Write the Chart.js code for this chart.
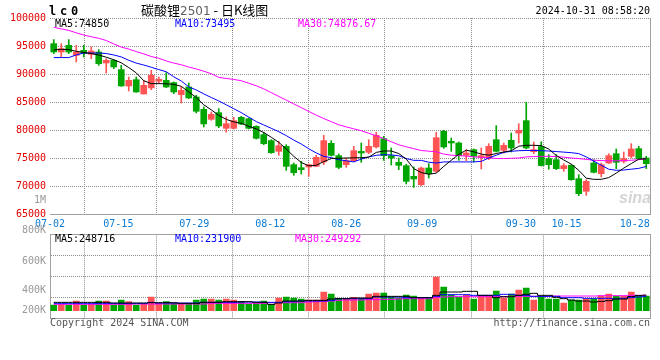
<!DOCTYPE html>
<html>
<head>
<meta charset="utf-8">
<script src="https://cdn.jsdelivr.net/npm/chart.js@4.4.1/dist/chart.umd.min.js"></script>
<style>
    html, body { margin: 0; padding: 0; background: #fff; }
    #wrap { position: relative; width: 660px; height: 360px; overflow: hidden; font-family: "DejaVu Sans Mono", monospace; font-size: 10px; }
    #priceCanvas { position: absolute; left: 0; top: 0; }
    #volCanvas { position: absolute; left: 0; top: 190px; }
    .txt { position: absolute; white-space: nowrap; line-height: 10px; }
</style>
</head>
<body>
<div id="wrap">
    <canvas id="priceCanvas" width="660" height="232"></canvas>
    <canvas id="volCanvas" width="660" height="170"></canvas>

    <div class="txt" style="left:49px;top:5px;font-size:12px;line-height:12px;font-weight:bold;letter-spacing:3.8px;">lc0</div>
    <div class="txt" style="left:141px;top:3px;font-family:'Noto Sans CJK SC';font-size:13px;line-height:14px;">碳酸锂<span style="color:#606060;font-family:'DejaVu Sans';font-size:12px;">2501</span> - 日K线图</div>
    <div class="txt" style="right:10px;top:6px;">2024-10-31 08:58:20</div>

    <div class="txt" style="left:55px;top:18.5px;color:#000;">MA5:74850</div>
    <div class="txt" style="left:175px;top:18.5px;color:#0000ff;">MA10:73495</div>
    <div class="txt" style="left:298px;top:18.5px;color:#ff00ff;">MA30:74876.67</div>

    <div class="txt" style="left:55px;top:233.5px;color:#000;">MA5:248716</div>
    <div class="txt" style="left:175px;top:233.5px;color:#0000ff;">MA10:231900</div>
    <div class="txt" style="left:295px;top:233.5px;color:#ff00ff;">MA30:249292</div>

    <div class="txt" style="left:619px;top:190px;font-family:'Liberation Sans';font-style:italic;font-weight:bold;font-size:16px;line-height:16px;color:#d4d4d4;">sina</div>

    <div class="txt" style="left:50px;top:318px;color:#555;">Copyright 2024 SINA.COM</div>
    <div class="txt" style="right:10px;top:318px;color:#555;">http://finance.sina.com.cn</div>
</div>

<script>
const dateLabels = [
    '07-02', '07-03', '07-04', '07-05', '07-08', '07-09', '07-10', '07-11', '07-12', '07-15',
    '07-16', '07-17', '07-18', '07-19', '07-22', '07-23', '07-24', '07-25', '07-26', '07-29',
    '07-30', '07-31', '08-01', '08-02', '08-05', '08-06', '08-07', '08-08', '08-09', '08-12',
    '08-13', '08-14', '08-15', '08-16', '08-19', '08-20', '08-21', '08-22', '08-23', '08-26',
    '08-27', '08-28', '08-29', '08-30', '09-02', '09-03', '09-04', '09-05', '09-06', '09-09',
    '09-10', '09-11', '09-12', '09-13', '09-18', '09-19', '09-20', '09-23', '09-24', '09-25',
    '09-26', '09-27', '09-30', '10-08', '10-09', '10-10', '10-11', '10-14', '10-15', '10-16',
    '10-17', '10-18', '10-21', '10-22', '10-23', '10-24', '10-25', '10-28', '10-29', '10-30'
];

const axisDateLabels = ['07-02', '07-15', '07-29', '08-12', '08-26', '09-09', '09-30', '10-15', '10-28'];

const openValues = [
    95420, 93930, 95120, 93340, 94230, 93520, 93930, 91970, 92450, 90780,
    87860, 88990, 86430, 87510, 88700, 88870, 88460, 86310, 87680, 85900,
    83690, 81910, 83100, 80300, 80300, 82260, 82020, 80660, 79170, 78100,
    76190, 77080, 73810, 73270, 73390, 73510, 74300, 77620, 75420, 73810,
    74520, 76190, 76010, 76970, 78450, 75420, 74230, 73630, 71730, 70240,
    73210, 72620, 79760, 77980, 77680, 75480, 76490, 75120, 75000, 78270,
    76370, 78160, 79460, 81670, 76130, 77040, 74890, 74700, 73100, 73690,
    71310, 69050, 74110, 72200, 74110, 75770, 74410, 75300, 76670, 75000
];

const highValues = [
    96140, 95420, 96140, 95120, 95120, 94830, 94350, 92740, 92560, 91550,
    89470, 89470, 88870, 90660, 89470, 90240, 88580, 87680, 88400, 86190,
    84110, 83220, 83810, 82320, 82260, 82440, 82140, 80770, 79580, 78270,
    77980, 77380, 74110, 74410, 73930, 75480, 79050, 78100, 75720, 75000,
    77080, 77680, 78270, 79580, 78870, 76790, 75000, 73870, 73390, 73390,
    73990, 79580, 79940, 78570, 77860, 76490, 76610, 76790, 77560, 80770,
    77680, 79460, 81130, 84940, 77860, 77900, 75600, 75600, 73990, 73810,
    72020, 71130, 74700, 74110, 75770, 76610, 76070, 77560, 77080, 75300
];

const lowValues = [
    93640, 93040, 93640, 92150, 93040, 92740, 91550, 90180, 90960, 87800,
    86970, 86730, 86430, 87210, 88280, 87560, 86490, 84830, 85600, 83040,
    80540, 81730, 80420, 79580, 80180, 80950, 80180, 78390, 77380, 75830,
    75480, 72800, 71910, 72140, 71730, 73450, 73800, 75360, 73100, 73330,
    74350, 74230, 75770, 76790, 74580, 73750, 72920, 70360, 69760, 70060,
    71430, 72440, 76730, 76190, 74580, 74520, 74290, 73040, 74700, 76070,
    75890, 76070, 77680, 76610, 75770, 73570, 73000, 72920, 72620, 71010,
    68280, 68330, 72320, 71610, 73990, 73100, 74110, 75000, 74700, 73100
];

const closeValues = [
    93930, 94530, 93930, 93930, 93640, 94110, 91850, 92450, 91260, 87860,
    88870, 86790, 87980, 89770, 89050, 87680, 86790, 87090, 85720, 83340,
    81080, 82800, 80720, 81130, 81670, 81070, 80300, 78510, 77560, 75950,
    77200, 73510, 72380, 72920, 73810, 75120, 78100, 75480, 73330, 74520,
    76310, 75890, 77080, 79050, 75420, 75000, 73690, 70830, 71250, 73210,
    72200, 78630, 76970, 77680, 75420, 75890, 75300, 75420, 77080, 76190,
    77260, 76790, 79940, 76790, 76490, 73650, 73810, 73100, 73630, 71130,
    68630, 70830, 72440, 73810, 75420, 74230, 74890, 76610, 74890, 73990
];

const ma5Values = [
    94300, 94410, 94350, 94050, 93850, 93640, 93380, 93000, 92550, 92000,
    91150, 90200, 88800, 88280, 88280, 88250, 88150, 87800, 86800, 85800,
    84500, 83600, 82600, 81900, 81450, 81200, 80650, 80200, 79550, 78700,
    77800, 76600, 75300, 74200, 73600, 73700, 74350, 74900, 74950, 75000,
    75030, 75050, 75150, 76000, 76250, 76250, 75800, 74800, 73100, 72400,
    72090, 72300, 73500, 74600, 75650, 76400, 76100, 75700, 75500, 75800,
    76070, 76300, 77100, 77270, 77270, 77200, 76600, 75450, 74650, 73900,
    72800, 71400, 71190, 71190, 71500, 72300, 73200, 74000, 74800, 74850
];

const ma10Values = [
    92930, 92930, 92930, 93400, 93750, 93750, 93750, 93650, 93400, 93050,
    92450, 91950, 91600, 91200, 90800, 90400, 89500, 88750, 87700, 87150,
    86450, 85800, 85200, 84500, 83800, 83100, 82300, 81500, 80900, 80300,
    79700, 79000, 78200, 77500, 76650, 75900, 75300, 75050, 74700, 74500,
    74300, 74800, 75200, 75480, 75600, 75550, 75400, 74900, 74580, 74580,
    74250, 74100, 74300, 74300, 74300, 74300, 74300, 74400, 75000, 75500,
    76000, 76200, 76300, 76350, 76350, 76300, 76250, 76150, 76050, 75950,
    75780, 75200, 74450, 73700, 73000, 72800, 72850, 73000, 73150, 73495
];

const ma30Values = [
    98340, 98050, 97790, 97350, 96950, 96650, 96370, 95980, 95370, 94800,
    94450, 94000, 93600, 93120, 92820, 92330, 91950, 91650, 91250, 90900,
    90500, 90050, 89400, 89200, 89030, 88800, 88350, 87900, 87340, 86670,
    86000, 85330, 84660, 83990, 83320, 82650, 82040, 81490, 80930, 80560,
    80220, 79870, 79420, 78970, 78470, 77910, 77360, 77000, 76670, 76330,
    76220, 76100, 75700, 75500, 75420, 75340, 75200, 75120, 75030, 74920,
    74900, 74950, 75000, 75200, 75250, 75300, 75300, 75250, 75150, 75000,
    74890, 74750, 74600, 74550, 74500, 74500, 74550, 74600, 74700, 74877
];

const volumeValues = [
    111000, 121000, 111000, 167000, 111000, 121000, 167000, 167000, 111000, 181000,
    158000, 111000, 121000, 223000, 135000, 158000, 135000, 135000, 135000, 181000,
    195000, 195000, 181000, 195000, 181000, 158000, 125000, 135000, 167000, 121000,
    209000, 223000, 209000, 195000, 181000, 181000, 293000, 265000, 205000, 195000,
    219000, 205000, 265000, 279000, 279000, 223000, 209000, 251000, 237000, 214000,
    219000, 503000, 363000, 251000, 223000, 251000, 195000, 237000, 237000, 307000,
    209000, 265000, 321000, 349000, 181000, 237000, 195000, 195000, 139000, 181000,
    181000, 195000, 195000, 237000, 265000, 237000, 237000, 293000, 237000, 237000
];

const volMa5Values = [
    148700, 148700, 148700, 148700, 148700, 148700, 148700, 148700, 139300, 139300,
    139300, 139300, 139300, 144000, 144000, 144000, 144000, 134700, 134700, 134700,
    148700, 148700, 148700, 158000, 158000, 158000, 158000, 148700, 148700, 120700,
    139300, 167300, 167300, 167300, 176700, 176700, 176700, 195300, 200000, 200000,
    209300, 209300, 209300, 232700, 232700, 232700, 232700, 232700, 214000, 214000,
    214000, 246700, 293300, 293300, 293300, 302700, 302700, 246700, 246700, 214000,
    228000, 228000, 246700, 260700, 274700, 246700, 246700, 218700, 200000, 181300,
    167300, 167300, 153300, 162700, 172000, 195300, 195300, 230000, 245000, 248716
];

const volMa10Values = [
    134700, 134700, 134700, 134700, 134700, 134700, 134700, 134700, 134700, 134700,
    134700, 134700, 134700, 148700, 139300, 139300, 139300, 139300, 139300, 139300,
    148700, 148700, 148700, 148700, 148700, 153300, 153300, 153300, 148700, 148700,
    148700, 158000, 158000, 167300, 167300, 167300, 167300, 176700, 200000, 200000,
    200000, 200000, 200000, 223300, 223300, 223300, 223300, 214000, 214000, 214000,
    214000, 232700, 256000, 256000, 256000, 256000, 246700, 246700, 246700, 246700,
    260700, 260700, 246700, 246700, 232700, 232700, 232700, 232700, 214000, 214000,
    214000, 204700, 204700, 204700, 204700, 198000, 206000, 215000, 224000, 231900
];

const volMa30Values = [
    120700, 120700, 120700, 120700, 120700, 120700, 120700, 120700, 120700, 120700,
    120700, 125300, 125300, 125300, 125300, 125300, 125300, 125300, 125300, 125300,
    125300, 134700, 134700, 134700, 134700, 134700, 134700, 134700, 134700, 144000,
    144000, 144000, 144000, 144000, 153300, 158000, 162700, 167300, 176700, 181300,
    181300, 181300, 186000, 186000, 190700, 190700, 195300, 200000, 200000, 200000,
    200000, 218700, 223300, 228000, 228000, 228000, 228000, 228000, 228000, 228000,
    228000, 232700, 232700, 232700, 232700, 232700, 232700, 237300, 237300, 237300,
    237300, 237300, 237300, 242000, 242000, 242000, 242000, 246700, 246700, 249292
];

const volTickLabels = ['1M', '800K', '600K', '400K', '200K'];

const jVarUpColor = '#ff5454';
const jVarDownColor = '#00a600';
const jVarGridColor = '#8c8c8c';
const jVarBoxColor = '#a0a0a0';
const jVarMonoFont = { family: 'DejaVu Sans Mono', size: 10 };

let jFCandleColors = ({ inOpen, inClose }) => {
    return inOpen.map((o, i) => (inClose[i] >= o ? jVarUpColor : jVarDownColor));
};

let jFPairs = ({ inFrom, inTo }) => {
    return inFrom.map((v, i) => [v, inTo[i]]);
};

// keep only the dated ticks that sina prints
let jFDateTicksOnly = (scale) => {
    scale.ticks = scale.ticks.filter(t => axisDateLabels.includes(dateLabels[t.value]));
};

let jFDateGridColor = (ctx) => {
    if (ctx.type !== 'tick' || !ctx.tick) return jVarGridColor;
    return dateLabels[ctx.tick.value] === '10-28' ? 'rgba(0,0,0,0)' : jVarGridColor;
};

let jFLine = ({ inData, inColor, inStepped }) => {
    return {
        type: 'line',
        data: inData,
        borderColor: inColor,
        borderWidth: 1,
        pointRadius: 0,
        tension: 0,
        stepped: inStepped ? 'middle' : false,
        order: 0
    };
};

const StartFunc = () => {
    let jVarLocalColors = jFCandleColors({ inOpen: openValues, inClose: closeValues });

    const ctxPrice = document.getElementById('priceCanvas');

    new Chart(ctxPrice, {
        type: 'bar',
        data: {
            labels: dateLabels,
            datasets: [
                jFLine({ inData: ma5Values, inColor: '#000000' }),
                jFLine({ inData: ma10Values, inColor: '#0000ff' }),
                jFLine({ inData: ma30Values, inColor: '#ff00ff' }),
                {
                    data: jFPairs({ inFrom: lowValues, inTo: highValues }),
                    backgroundColor: jVarLocalColors,
                    barThickness: 1,
                    grouped: false,
                    borderWidth: 0,
                    order: 2
                },
                {
                    data: jFPairs({ inFrom: openValues, inTo: closeValues }),
                    backgroundColor: jVarLocalColors,
                    barThickness: 6,
                    grouped: false,
                    borderWidth: 0,
                    borderSkipped: false,
                    order: 1
                }
            ]
        },
        options: {
            responsive: false,
            animation: false,
            events: [],
            layout: { padding: { top: 18, left: 0, right: 0, bottom: 0 } },
            plugins: { legend: { display: false }, tooltip: { enabled: false } },
            scales: {
                x: { type: 'category', offset: true, display: false },
                xg: {
                    type: 'category',
                    labels: dateLabels,
                    offset: false,
                    position: 'bottom',
                    afterBuildTicks: jFDateTicksOnly,
                    afterFit: (s) => { s.height = 18; },
                    ticks: { autoSkip: false, maxRotation: 0, color: '#0c7bd3', font: jVarMonoFont, padding: 4 },
                    grid: { color: jFDateGridColor, drawTicks: false },
                    border: { display: true, color: jVarBoxColor, dash: [1, 1] }
                },
                y: {
                    position: 'left',
                    min: 65000,
                    max: 100000,
                    afterFit: (s) => { s.width = 50; },
                    ticks: {
                        stepSize: 5000,
                        color: '#e00000',
                        font: jVarMonoFont,
                        padding: 4,
                        callback: (value) => String(value)
                    },
                    grid: { color: jVarGridColor, drawTicks: false },
                    border: { display: false, dash: [1, 1] }
                },
                yr: {
                    position: 'right',
                    afterFit: (s) => { s.width = 10; },
                    ticks: { display: false },
                    grid: { display: false, drawTicks: false },
                    border: { display: true, color: jVarBoxColor }
                }
            }
        }
    });

    const ctxVol = document.getElementById('volCanvas');

    new Chart(ctxVol, {
        type: 'bar',
        data: {
            labels: dateLabels,
            datasets: [
                { ...jFLine({ inData: volMa5Values, inColor: '#000000', inStepped: true }), yAxisID: 'yv' },
                { ...jFLine({ inData: volMa10Values, inColor: '#0000ff', inStepped: true }), yAxisID: 'yv' },
                { ...jFLine({ inData: volMa30Values, inColor: '#ff00ff', inStepped: true }), yAxisID: 'yv' },
                {
                    data: volumeValues,
                    base: 32000,
                    yAxisID: 'yv',
                    backgroundColor: jVarLocalColors,
                    barThickness: 6,
                    borderWidth: 0,
                    order: 1
                }
            ]
        },
        options: {
            responsive: false,
            animation: false,
            events: [],
            layout: { padding: { top: 44.3, left: 0, right: 0, bottom: 42 } },
            plugins: { legend: { display: false }, tooltip: { enabled: false } },
            scales: {
                x: { type: 'category', offset: true, display: false },
                xg: {
                    type: 'category',
                    labels: dateLabels,
                    offset: false,
                    position: 'bottom',
                    afterBuildTicks: jFDateTicksOnly,
                    afterFit: (s) => { s.height = 0; },
                    ticks: { display: false, autoSkip: false },
                    grid: { color: jFDateGridColor, drawTicks: false },
                    border: { display: true, color: jVarBoxColor, dash: [1, 1] }
                },
                xt: {
                    type: 'category',
                    labels: dateLabels,
                    position: 'top',
                    afterFit: (s) => { s.height = 0; },
                    ticks: { display: false },
                    grid: { display: false, drawTicks: false },
                    border: { display: true, color: jVarBoxColor }
                },
                yv: {
                    position: 'left',
                    weight: 0,
                    min: -70000,
                    max: 1100000,
                    afterFit: (s) => { s.width = 0; },
                    ticks: { display: false, count: 5 },
                    grid: { color: jVarGridColor, drawTicks: false },
                    border: { display: true, color: jVarBoxColor, dash: [1, 1] }
                },
                yl: {
                    position: 'left',
                    weight: 1,
                    min: -70000,
                    max: 1100000,
                    afterFit: (s) => { s.width = 50; },
                    // sina prints its volume labels at these spots, not on the grid
                    afterBuildTicks: (s) => {
                        s.ticks = [1572000, 1147800, 727800, 321800, 41800].map(v => ({ value: v }));
                    },
                    ticks: {
                        autoSkip: false,
                        color: '#999999',
                        font: jVarMonoFont,
                        padding: 4,
                        callback: (value, index) => volTickLabels[index]
                    },
                    grid: { display: false, drawTicks: false },
                    border: { display: false }
                },
                yr: {
                    position: 'right',
                    afterFit: (s) => { s.width = 10; },
                    ticks: { display: false },
                    grid: { display: false, drawTicks: false },
                    border: { display: true, color: jVarBoxColor }
                }
            }
        }
    });
};

StartFunc();
</script>
</body>
</html>
